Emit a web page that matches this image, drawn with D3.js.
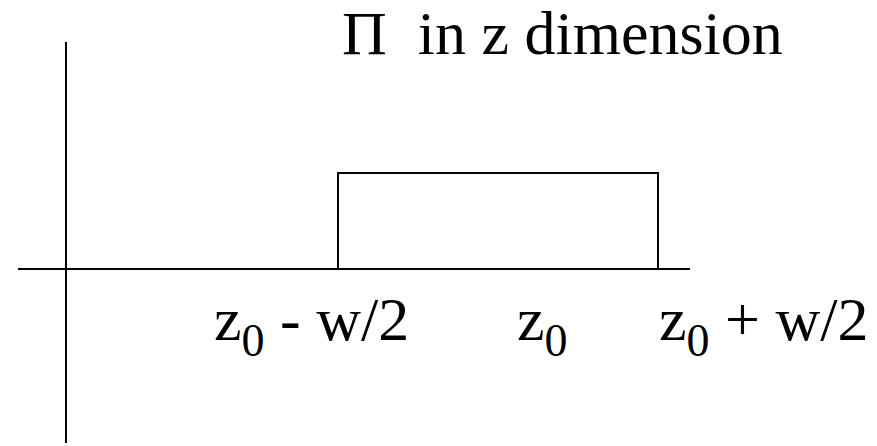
<!DOCTYPE html>
<html>
<head>
<meta charset="utf-8">
<script src="https://cdn.jsdelivr.net/npm/d3@7"></script>
</head>
<body style="margin:0">
<svg id="fig" width="877" height="446" font-family="Liberation Serif, Times New Roman, Tinos, serif"></svg>
<script>
// Rectangular pulse along z: centre z0, width w (in units of w/2 = 1)
const z0 = 0;
const halfWidth = 1;
const pulseHeight = 1;

// z-axis extent and the position of the vertical axis on it
const zDomain = [-3, 1.2];
const yAxisAt = -2.7;

// Tick labels: main symbol, subscript, trailing text, and z value they refer to
const labelValues = [z0 - halfWidth, z0, z0 + halfWidth];
const labelMain = ["z", "z", "z"];
const labelSub = ["0", "0", "0"];
const labelTail = ["\u00A0- w/2", "", "\u00A0+ w/2"];

const titleText = "\u03A0\u00A0\u00A0in z dimension";

// ---- layout ----
const svg = d3.select("#fig");
const x = d3.scaleLinear().domain(zDomain).range([18, 690]);
const y = d3.scaleLinear().domain([0, pulseHeight]).range([269, 173]);
const axisTop = 42, axisBottom = 443;
// horizontal nudge of each label's left edge relative to its z position
const labelDx = [-124, 19, 1];

// vertical axis
svg.append("line")
  .attr("x1", x(yAxisAt)).attr("x2", x(yAxisAt))
  .attr("y1", axisTop).attr("y2", axisBottom)
  .attr("stroke", "#000").attr("stroke-width", 2);

// horizontal z axis
svg.append("line")
  .attr("x1", x(zDomain[0])).attr("x2", x(zDomain[1]))
  .attr("y1", y(0)).attr("y2", y(0))
  .attr("stroke", "#000").attr("stroke-width", 2);

// the pulse
const pulse = [
  [z0 - halfWidth, 0], [z0 - halfWidth, pulseHeight],
  [z0 + halfWidth, pulseHeight], [z0 + halfWidth, 0]
];
svg.append("path")
  .attr("d", d3.line().x(d => x(d[0])).y(d => y(d[1]))(pulse))
  .attr("fill", "none")
  .attr("stroke", "#000")
  .attr("stroke-width", 2);

// title
svg.append("text")
  .attr("x", 342)
  .attr("y", 54)
  .attr("font-size", 62)
  .text(titleText);

// z labels below the axis
const labels = svg.selectAll("text.zlabel")
  .data(labelValues)
  .join("text")
  .attr("class", "zlabel")
  .attr("x", (d, i) => x(d) + labelDx[i])
  .attr("y", 340)
  .attr("font-size", 62);

labels.append("tspan").text((d, i) => labelMain[i]);
labels.append("tspan")
  .attr("font-size", 46)
  .attr("dy", 16)
  .text((d, i) => labelSub[i]);
labels.append("tspan")
  .attr("dy", -16)
  .text((d, i) => labelTail[i]);
</script>
</body>
</html>
